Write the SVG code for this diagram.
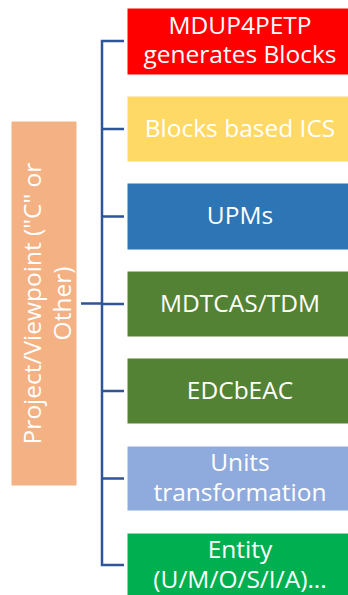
<svg xmlns="http://www.w3.org/2000/svg" width="348" height="595" viewBox="0 0 348 595">
<style>
.t{font-family:"Open Sans","Noto Sans",sans-serif;font-size:24.5px;fill:#fff;text-anchor:middle}
.b{stroke:#fff;stroke-width:1}
.c{stroke:#2F5597;stroke-width:2.5;fill:none}
</style>
<rect width="348" height="595" fill="#fff"/>
<g id="connectors">
<path class="c" d="M124,41 H102 V565 H124"/>
<path class="c" d="M102,129 H124 M102,216.5 H124 M102,304 H124 M102,391 H124 M102,478.5 H124 M81,303.5 H102"/>
</g>
<g id="root">
<rect class="b" x="11" y="121" width="66" height="365" fill="#F4B183"/>
<text class="t" transform="translate(44,303.5) rotate(-90)"><tspan x="0" y="-3">Project/Viewpoint ("C" or</tspan><tspan x="0" y="27">Other)</tspan></text>
</g>
<g id="n1">
<rect class="b" x="127" y="8" width="225" height="67" fill="#FF0000"/>
<text class="t"><tspan x="240" y="34">MDUP4PETP</tspan><tspan x="240" y="63">generates Blocks</tspan></text>
</g>
<g id="n2">
<rect class="b" x="127" y="96" width="225" height="66" fill="#FFD966"/>
<text class="t" x="240" y="137">Blocks based ICS</text>
</g>
<g id="n3">
<rect class="b" x="127" y="183" width="225" height="67" fill="#2E75B6"/>
<text class="t" x="240" y="224">UPMs</text>
</g>
<g id="n4">
<rect class="b" x="127" y="271" width="225" height="66" fill="#548235"/>
<text class="t" x="240" y="312">MDTCAS/TDM</text>
</g>
<g id="n5">
<rect class="b" x="127" y="358" width="225" height="66" fill="#548235"/>
<text class="t" x="240" y="399">EDCbEAC</text>
</g>
<g id="n6">
<rect class="b" x="127" y="446" width="225" height="65" fill="#8FAADC"/>
<text class="t"><tspan x="240" y="471">Units</tspan><tspan x="240" y="501">transformation</tspan></text>
</g>
<g id="n7">
<rect class="b" x="127" y="533" width="225" height="70" fill="#00B050"/>
<text class="t"><tspan x="240" y="558">Entity</tspan><tspan x="240" y="588">(U/M/O/S/I/A)...</tspan></text>
</g>
</svg>
